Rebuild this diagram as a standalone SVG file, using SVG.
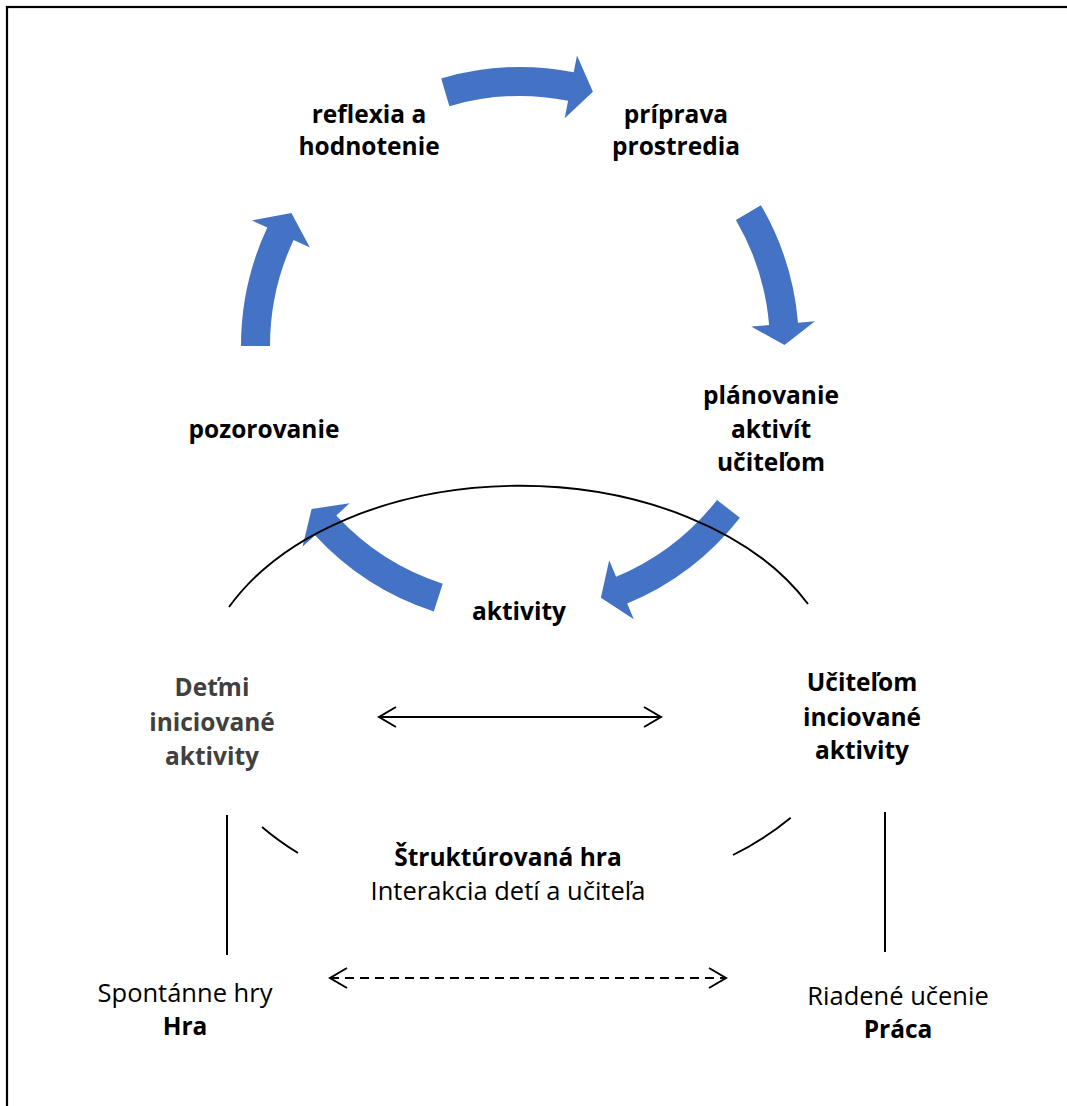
<svg xmlns="http://www.w3.org/2000/svg" width="1067" height="1106" viewBox="0 0 1067 1106">
<defs>
<style>
.b{font-family:"Open Sans","Liberation Sans",sans-serif;font-weight:bold;font-size:24.5px;fill:#000;text-anchor:middle}
.r{font-family:"Open Sans","Liberation Sans",sans-serif;font-weight:normal;font-size:25.5px;fill:#000;text-anchor:middle}
.g{fill:#404040}
.arr{fill:#4472C4}
.thin{fill:none;stroke:#000;stroke-width:1.9}
.vl{fill:none;stroke:#000;stroke-width:2}
.dl{fill:none;stroke:#000;stroke-width:2}
</style>
<marker id="chev" markerUnits="userSpaceOnUse" markerWidth="22" markerHeight="26" refX="19" refY="12" orient="auto-start-reverse">
<path d="M2,2 L19,12 L2,22" fill="none" stroke="#000" stroke-width="2"/>
</marker>
</defs>
<rect width="1067" height="1106" fill="#fff"/>
<rect x="7" y="7" width="1090" height="1120" fill="none" stroke="#000" stroke-width="2.2"/>

<g id="connectors">
<path class="arr" d="M760.9,205.2 A279,279 0 0 1 798.0,322.7 L815.0,321.2 L784.5,345.1 L751.2,326.6 L769.1,325.1 A250,250 0 0 0 735.9,219.9 Z"/>
<path class="arr" d="M739.9,517.8 A279,279 0 0 1 627.2,603.6 L633.8,619.3 L600.9,597.8 L609.2,560.2 L616.1,576.8 A250,250 0 0 0 717.0,499.9 Z"/>
<path class="arr" d="M433.8,611.4 A279,279 0 0 1 315.0,535.2 L302.5,546.7 L311.6,508.9 L349.5,503.3 L336.3,515.6 A250,250 0 0 0 442.7,583.8 Z"/>
<path class="arr" d="M241,346 A279,279 0 0 1 267.3,227.6 L251.9,220.4 L291.4,213.0 L309.9,247.6 L293.6,239.9 A250,250 0 0 0 270,346 Z"/>
<path class="arr" d="M441.2,78.4 A279,279 0 0 1 573.7,72.2 L577.0,55.5 L592.9,91.7 L564.7,118.3 L568.1,100.7 A250,250 0 0 0 449.4,106.2 Z"/>
<path class="thin" d="M229,607 A322,213 0 0 1 808,604"/>
<path class="thin" d="M262,827 A322,213 0 0 0 298,853"/>
<path class="thin" d="M733,855 A322,213 0 0 0 790.7,817.7"/>
<line class="vl" x1="227" y1="815" x2="227" y2="955"/>
<line class="vl" x1="885" y1="812" x2="885" y2="952"/>
<line class="dl" x1="379" y1="717" x2="661" y2="717" marker-start="url(#chev)" marker-end="url(#chev)"/>
<line class="dl" x1="330" y1="978" x2="726" y2="978" stroke-dasharray="9 6" marker-start="url(#chev)" marker-end="url(#chev)"/>
</g>

<g id="n-reflexia"><text class="b" x="369" y="123">reflexia a</text><text class="b" x="369" y="155">hodnotenie</text></g>
<g id="n-priprava"><text class="b" x="676" y="123">príprava</text><text class="b" x="676" y="155">prostredia</text></g>
<g id="n-planovanie"><text class="b" x="771" y="404">plánovanie</text><text class="b" x="771" y="438">aktivít</text><text class="b" x="771" y="471">učiteľom</text></g>
<g id="n-pozorovanie"><text class="b" x="264" y="438">pozorovanie</text></g>
<g id="n-aktivity"><text class="b" x="519" y="620">aktivity</text></g>
<g id="n-detmi"><text class="b g" x="212" y="696">Deťmi</text><text class="b g" x="212" y="731">iniciované</text><text class="b g" x="212" y="765">aktivity</text></g>
<g id="n-ucitelom"><text class="b" x="862" y="691">Učiteľom</text><text class="b" x="862" y="726">inciované</text><text class="b" x="862" y="759">aktivity</text></g>
<g id="n-strukturovana"><text class="b" x="508" y="866">Štruktúrovaná hra</text><text class="r" x="508" y="900">Interakcia detí a učiteľa</text></g>
<g id="n-hra"><text class="r" x="185" y="1002">Spontánne hry</text><text class="b" x="185" y="1035">Hra</text></g>
<g id="n-praca"><text class="r" x="898" y="1005">Riadené učenie</text><text class="b" x="898" y="1038">Práca</text></g>
</svg>
